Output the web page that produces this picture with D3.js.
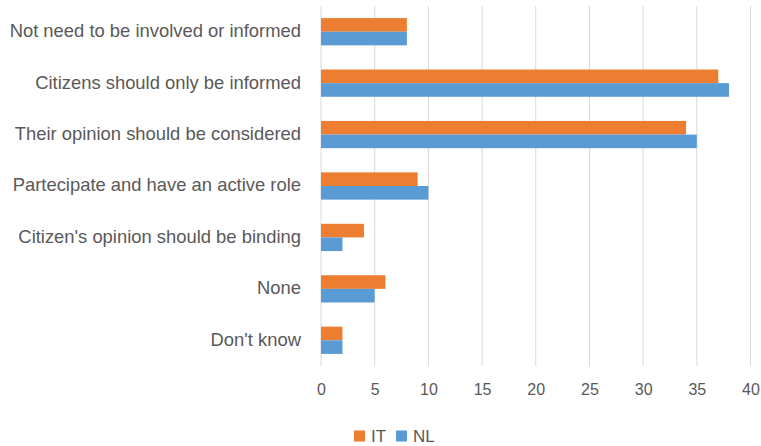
<!DOCTYPE html>
<html>
<head>
<meta charset="utf-8">
<script src="https://cdn.jsdelivr.net/npm/d3@7/dist/d3.min.js"></script>
<style>
  html, body { margin: 0; padding: 0; background: #fff; }
  svg text { font-family: "Liberation Sans", Arial, sans-serif; fill: #595959; }
</style>
</head>
<body>
<svg id="chart" width="761" height="446"></svg>
<script>
const categories = [
  "Not need to be involved or informed",
  "Citizens should only be informed",
  "Their opinion should be considered",
  "Partecipate and have an active role",
  "Citizen's opinion should be binding",
  "None",
  "Don't know"
];
const seriesNames = ["IT", "NL"];
const valuesIT = [8, 37, 34, 9, 4, 6, 2];
const valuesNL = [8, 38, 35, 10, 2, 5, 2];
const xTicks = [0, 5, 10, 15, 20, 25, 30, 35, 40];
const colors = ["#ED7D31", "#5B9BD5"];

const svg = d3.select("#chart");

const x = d3.scaleLinear().domain([0, 40]).range([321, 750.5]);
const y = d3.scaleBand().domain(categories).range([6, 366]).paddingInner(0.47).paddingOuter(0.235);
const y1 = d3.scaleBand().domain(seriesNames).range([0, y.bandwidth()]);

// gridlines
svg.append("g").selectAll("line").data(xTicks).join("line")
  .attr("x1", d => x(d)).attr("x2", d => x(d))
  .attr("y1", 6).attr("y2", 366)
  .attr("stroke", "#d9d9d9").attr("stroke-width", 1);

// bars
const data = categories.map((c, i) => ({ cat: c, vals: [valuesIT[i], valuesNL[i]] }));
const groups = svg.append("g").selectAll("g").data(data).join("g")
  .attr("transform", d => `translate(0,${y(d.cat)})`);
groups.selectAll("rect").data(d => d.vals.map((v, j) => ({ s: seriesNames[j], v, j })))
  .join("rect")
  .attr("x", x(0))
  .attr("y", d => y1(d.s))
  .attr("width", d => x(d.v) - x(0))
  .attr("height", y1.bandwidth())
  .attr("fill", d => colors[d.j]);

// category labels
svg.append("g").selectAll("text").data(categories).join("text")
  .attr("x", 301)
  .attr("y", d => y(d) + y.bandwidth() / 2 - 1)
  .attr("dy", "0.35em")
  .attr("text-anchor", "end")
  .attr("font-size", 18.4)
  .text(d => d);

// x tick labels
const xAxis = d3.axisBottom(x).tickValues(xTicks).tickSize(0).tickPadding(0);
const gx = svg.append("g").attr("transform", "translate(0,384)").call(xAxis);
gx.select(".domain").remove();
gx.selectAll("text").attr("font-size", 16).attr("dy", "0.71em").style("fill", "#595959")
  .attr("font-family", "Liberation Sans, Arial, sans-serif");

// legend
const legend = svg.append("g").attr("transform", "translate(354,436)");
const legX = [0, 42];
seriesNames.forEach((s, i) => {
  const g = legend.append("g").attr("transform", `translate(${legX[i]},0)`);
  g.append("rect").attr("x", 0).attr("y", -5.5).attr("width", 11).attr("height", 11).attr("fill", colors[i]);
  g.append("text").attr("x", 17).attr("y", 0).attr("dy", "0.35em").attr("font-size", 17).text(s);
});
</script>
</body>
</html>
